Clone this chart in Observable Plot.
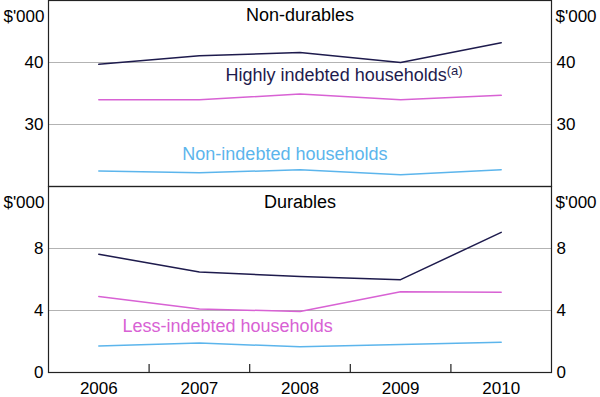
<!DOCTYPE html>
<html>
<head>
<meta charset="utf-8">
<script src="https://cdn.jsdelivr.net/npm/d3@7"></script>
<script src="https://cdn.jsdelivr.net/npm/@observablehq/plot@0.6"></script>
<style>
  html, body { margin: 0; padding: 0; background: #fff; }
  #chart { position: relative; width: 600px; height: 397px; overflow: hidden; font-family: "Liberation Sans", Arial, sans-serif; }
  #chart svg { position: absolute; left: 0; overflow: visible; }
</style>
</head>
<body>
<div id="chart"></div>
<script>
// ---- Data ----
const years = [2006, 2007, 2008, 2009, 2010];
const nonDurHighly = [39.7, 41.1, 41.6, 40.0, 43.2];
const nonDurLess   = [34.0, 34.0, 34.9, 34.0, 34.7];
const nonDurNone   = [22.5, 22.2, 22.7, 21.9, 22.7];
const durHighly = [7.63, 6.49, 6.19, 5.99, 9.04];
const durLess   = [4.91, 4.09, 3.94, 5.21, 5.17];
const durNone   = [1.71, 1.90, 1.66, 1.80, 1.95];
const topTicks = [30, 40];
const bottomTicks = [0, 4, 8];
const yearBoundaries = [2006.5, 2007.5, 2008.5, 2009.5];
const unitLabel = "$'000";
const topTitle = "Non-durables";
const bottomTitle = "Durables";
const seriesNames = ["Highly indebted households", "Less-indebted households", "Non-indebted households"];
// label anchor positions (year, value)
const topLabels = [
  {x: 2008, y: 47.6, text: topTitle, color: "#000", anchor: "middle"},
  {x: 2007.26, y: 37.9, text: seriesNames[0], color: "#1e1b4d", anchor: "start", id: "hi"},
  {x: 2007.85, y: 25.2, text: seriesNames[2], color: "#5cb5ec", anchor: "middle"}
];
const bottomLabels = [
  {x: 2008, y: 11.0, text: bottomTitle, color: "#000", anchor: "middle"},
  {x: 2007.28, y: 3.0, text: seriesNames[1], color: "#d862d4", anchor: "middle"}
];

const colors = {hi: "#1e1b4d", less: "#d862d4", none: "#5cb5ec"};

function toRows(vals, key) { return years.map((y, i) => ({year: y, value: vals[i], key})); }

const FONT = "Liberation Sans, Arial, sans-serif";
const W = 600, ML = 48, MR = 49;
const xDomain = [2005.5, 2010.5];

function panel({height, marginBottom, yDomain, ticks, series, labels, showX}) {
  const marks = [
    Plot.ruleY(ticks.filter(t => t !== 0), {stroke: "#b3b3b3", strokeWidth: 1}),
    ...series.map(s => Plot.line(toRows(s.vals, s.key), {x: "year", y: "value", stroke: colors[s.key], strokeWidth: 1.5})),
    Plot.axisY(ticks, {anchor: "left", tickSize: 0, tickPadding: 5, fontSize: 17, fill: "#000"}),
    Plot.axisY(ticks, {anchor: "right", tickSize: 0, tickPadding: 5, fontSize: 17, fill: "#000"}),
    Plot.text([unitLabel], {frameAnchor: "top-left", textAnchor: "end", dx: -4, dy: 9, fontSize: 17, fill: "#000"}),
    Plot.text([unitLabel], {frameAnchor: "top-right", textAnchor: "start", dx: 4, dy: 9, fontSize: 17, fill: "#000"}),
    ...labels.map(l => Plot.text([l], {x: "x", y: "y", text: "text", fill: l.color, textAnchor: l.anchor, fontSize: 18, className: l.id ? "lbl-" + l.id : undefined})),
    Plot.frame({stroke: "#222", strokeWidth: 1.2})
  ];
  if (showX) {
    marks.push(Plot.ruleX(yearBoundaries, {y1: yDomain[0], y2: yDomain[0] + 0.52, stroke: "#222", strokeWidth: 1.2}));
    marks.push(Plot.axisX(years, {tickSize: 0, tickPadding: 9, fontSize: 17, fill: "#000", tickFormat: d => String(d)}));
  }
  return Plot.plot({
    width: W,
    height,
    marginLeft: ML,
    marginRight: MR,
    marginTop: 0,
    marginBottom,
    style: {fontFamily: FONT, fontSize: "17px", background: "transparent", overflow: "visible"},
    x: {domain: xDomain, axis: null},
    y: {domain: yDomain, axis: null},
    marks
  });
}

const topPanel = panel({
  height: 186, marginBottom: 0, yDomain: [20, 50], ticks: topTicks,
  series: [{vals: nonDurHighly, key: "hi"}, {vals: nonDurLess, key: "less"}, {vals: nonDurNone, key: "none"}],
  labels: topLabels, showX: false
});
const bottomPanel = panel({
  height: 211, marginBottom: 25, yDomain: [0, 12], ticks: bottomTicks,
  series: [{vals: durHighly, key: "hi"}, {vals: durLess, key: "less"}, {vals: durNone, key: "none"}],
  labels: bottomLabels, showX: true
});
topPanel.style.top = "0px";
bottomPanel.style.top = "186px";
const chart = document.getElementById("chart");
chart.appendChild(topPanel);
chart.appendChild(bottomPanel);

// superscript footnote marker
const hiText = topPanel.querySelector(".lbl-hi text");
if (hiText) {
  const sup = document.createElementNS("http://www.w3.org/2000/svg", "tspan");
  sup.setAttribute("dy", "-0.45em");
  sup.setAttribute("font-size", "13");
  sup.textContent = "(a)";
  hiText.appendChild(sup);
}
</script>
</body>
</html>
